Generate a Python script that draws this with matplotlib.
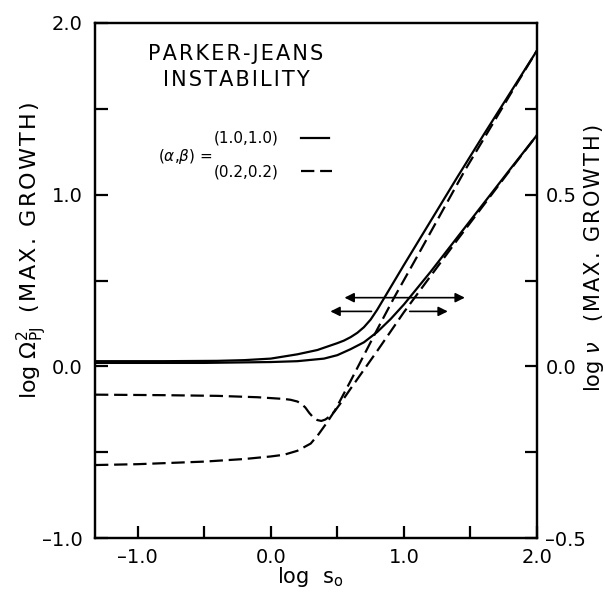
import matplotlib
matplotlib.use("Agg")
import matplotlib.pyplot as plt

# ---------------- data ----------------
# solid (alpha,beta)=(1.0,1.0): steeper branch
s1_x = [-1.32, -0.8, -0.4, -0.2, 0.0, 0.2, 0.35, 0.5, 0.55, 0.6, 0.65, 0.7, 0.75, 0.8, 0.85, 0.9, 0.95, 1.0, 1.2, 1.4, 1.6, 1.8, 2.0]
s1_y = [0.030, 0.030, 0.032, 0.036, 0.045, 0.07, 0.095, 0.135, 0.15, 0.17, 0.195, 0.228, 0.272, 0.33, 0.395, 0.46, 0.525, 0.59, 0.845, 1.10, 1.35, 1.595, 1.84]
# solid (alpha,beta)=(1.0,1.0): shallower branch
s2_x = [-1.32, -0.5, 0.0, 0.2, 0.4, 0.5, 0.6, 0.7, 0.8, 0.9, 1.0, 1.1, 1.2, 1.4, 1.6, 1.8, 2.0]
s2_y = [0.020, 0.020, 0.025, 0.030, 0.045, 0.065, 0.10, 0.14, 0.20, 0.275, 0.36, 0.455, 0.55, 0.75, 0.95, 1.15, 1.347]
# dashed (alpha,beta)=(0.2,0.2): branch with the dip
d1_x = [-1.32, -0.8, -0.4, -0.1, 0.1, 0.15, 0.2, 0.23, 0.26, 0.29, 0.32, 0.35, 0.38, 0.41, 0.44, 0.48, 0.52, 0.6, 0.8, 1.0, 1.2, 1.4, 1.6, 1.8, 2.0]
d1_y = [-0.165, -0.168, -0.172, -0.18, -0.19, -0.195, -0.205, -0.218, -0.24, -0.272, -0.298, -0.313, -0.318, -0.31, -0.293, -0.262, -0.22, -0.13, 0.09, 0.315, 0.525, 0.735, 0.94, 1.145, 1.347]
# dashed (alpha,beta)=(0.2,0.2): lower-starting branch
d2_x = [-1.32, -1.0, -0.5, -0.2, 0.0, 0.1, 0.2, 0.3, 0.36, 0.42, 0.48, 0.6, 0.8, 0.93, 1.1, 1.3, 1.46, 1.6, 1.8, 2.0]
d2_y = [-0.575, -0.57, -0.555, -0.54, -0.525, -0.515, -0.492, -0.45, -0.395, -0.33, -0.26, -0.085, 0.215, 0.405, 0.64, 0.92, 1.144, 1.325, 1.585, 1.84]

# horizontal double arrows
arrow_upper = (0.554, 1.458, 0.40)               # x0, x1, y
arrow_lower = (0.448, 0.757, 1.044, 1.33, 0.32)  # x0, gap start, gap end, x1, y

x_ticks = [-1.0, -0.5, 0.0, 0.5, 1.0, 1.5, 2.0]
x_ticklabels = ["\u20131.0", "", "0.0", "", "1.0", "", "2.0"]
yl_ticks = [-1.0, -0.5, 0.0, 0.5, 1.0, 1.5, 2.0]
yl_ticklabels = ["\u20131.0", "", "0.0", "", "1.0", "", "2.0"]
yr_ticks = [-0.5, -0.25, 0.0, 0.25, 0.5, 0.75]
yr_ticklabels = ["\u20130.5", "", "0.0", "", "0.5", ""]

title_lines = ["PARKER-JEANS", "INSTABILITY"]
legend_labels = ["(1.0,1.0)", "(0.2,0.2)"]


def spaced(s, sep="\u200a"):
    return sep.join(list(s))


# ---------------- figure ----------------
plt.rcParams['font.family'] = ['DejaVu Sans']
plt.rcParams['mathtext.fontset'] = 'dejavusans'

fig = plt.figure(figsize=(6.05, 5.92), dpi=100)
ax = fig.add_axes([95/605, 1-538/592, (537-95)/605, (538-23)/592])
ax.set_xlim(-1.32, 2.0)
ax.set_ylim(-1.0, 2.0)

lw = 1.6
dash = (6, 2.6)
ax.plot(s1_x, s1_y, color='black', lw=lw)
ax.plot(s2_x, s2_y, color='black', lw=lw)
ax.plot(d1_x, d1_y, color='black', lw=lw, dashes=dash)
ax.plot(d2_x, d2_y, color='black', lw=lw, dashes=dash)

apr = dict(arrowstyle='<|-|>', color='black', lw=1.2, mutation_scale=14, shrinkA=0, shrinkB=0)
ax.annotate("", xy=(arrow_upper[1], arrow_upper[2]), xytext=(arrow_upper[0], arrow_upper[2]), arrowprops=apr)
apr1 = dict(arrowstyle='-|>', color='black', lw=1.2, mutation_scale=14, shrinkA=0, shrinkB=0)
ax.annotate("", xy=(arrow_lower[0], arrow_lower[4]), xytext=(arrow_lower[1], arrow_lower[4]), arrowprops=apr1)
ax.annotate("", xy=(arrow_lower[3], arrow_lower[4]), xytext=(arrow_lower[2], arrow_lower[4]), arrowprops=apr1)

# spines & ticks
for sp in ax.spines.values():
    sp.set_linewidth(1.6)
ax.set_xticks(x_ticks)
ax.set_xticklabels(x_ticklabels, fontsize=14)
ax.set_yticks(yl_ticks)
ax.set_yticklabels(yl_ticklabels, fontsize=14)
ax.tick_params(axis='both', direction='in', length=9, width=1.6)
ax.tick_params(axis='y', pad=9)
ax.tick_params(axis='x', pad=7)

ax2 = ax.twinx()
ax2.set_ylim(-0.5, 1.0)
ax2.set_yticks(yr_ticks)
ax2.set_yticklabels(yr_ticklabels, fontsize=14)
ax2.tick_params(axis='y', direction='in', length=9, width=1.6, pad=6)
for sp in ax2.spines.values():
    sp.set_linewidth(1.6)

fig.text(310/605, 1-577/592, r"log  s$_\mathrm{o}$", ha='center', va='center', fontsize=15)
fig.text(32/605, 1-250/592, r"log $\Omega^{2}_{\mathrm{PJ}}$  " + spaced("(MAX. GROWTH)"), rotation=90,
         ha='center', va='center', fontsize=16)
fig.text(594/605, 1-258/592, r"log $\nu$   " + spaced("(MAX. GROWTH)"), rotation=90,
         ha='center', va='center', fontsize=15)

# title block
ax.text(-0.26, 1.82, spaced(title_lines[0]), ha='center', va='center', fontsize=15)
ax.text(-0.26, 1.67, spaced(title_lines[1]), ha='center', va='center', fontsize=15)

# legend block
ax.text(-0.645, 1.225, r"($\alpha$,$\beta$) =", ha='center', va='center', fontsize=11)
ax.text(-0.185, 1.33, legend_labels[0], ha='center', va='center', fontsize=11)
ax.text(-0.185, 1.13, legend_labels[1], ha='center', va='center', fontsize=11)
ax.plot([0.23, 0.44], [1.33, 1.33], color='black', lw=lw)
ax.plot([0.23, 0.46], [1.14, 1.14], color='black', lw=lw, dashes=dash)

fig.savefig("out.png", dpi=100)
